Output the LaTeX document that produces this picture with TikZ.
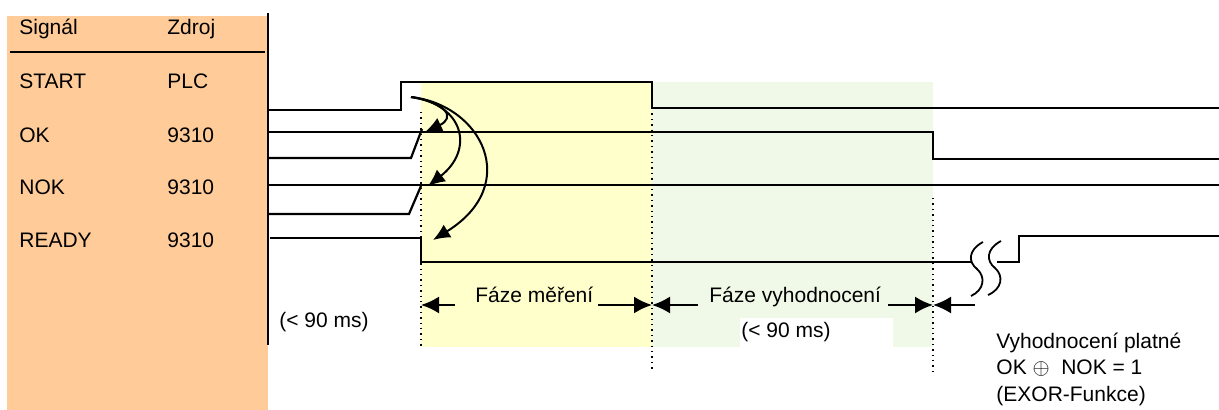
\documentclass[tikz,border=0pt]{standalone}
\usepackage{fontspec}
\setmainfont{Liberation Sans}
\usepackage{tikz}
\usetikzlibrary{arrows.meta,positioning}
\definecolor{panelorange}{HTML}{FFCC99}
\definecolor{phaseyellow}{HTML}{FFFFCC}
\definecolor{phasegreen}{HTML}{F0F8E8}

\begin{document}
\begin{tikzpicture}[
      x=0.5pt, y=-0.5pt,
      font=\fontsize{10.5}{13}\selectfont,
      lbl/.style={anchor=base west, inner sep=0pt},
      sig/.style={line width=1.1pt},
      guide/.style={dotted, line width=0.7pt},
      arr/.style={-{Latex[length=8.5pt,width=7.5pt]}, line width=1pt},
      dimarr/.style={-{Latex[length=9pt,width=8.5pt]}, line width=1pt},
      brk/.style={line width=0.9pt}
    ]
    \useasboundingbox (0,0) rectangle (1219,410);

    % backgrounds
    \fill[panelorange] (7,16) rectangle (268,410);
    \fill[phaseyellow] (421,82) rectangle (652,347);
    \fill[phasegreen]  (652,82) rectangle (933,347);
    \fill[white] (740,318) rectangle (893,347);

    % signal table
    \node[lbl] (hsig) at (19,35)  {Signál};
    \node[lbl] (hsrc) at (167,35) {Zdroj};
    \node[lbl] (start) at (19,89)    {START};
    \node[lbl] (startsrc) at (167,89) {PLC};
    \node[lbl] (ok) at (19,142.5)     {OK};
    \node[lbl] (oksrc) at (167,142.5) {9310};
    \node[lbl] (nok) at (19,195)      {NOK};
    \node[lbl] (noksrc) at (167,195)  {9310};
    \node[lbl] (ready) at (19,248)    {READY};
    \node[lbl] (readysrc) at (167,248) {9310};
    \draw[line width=1pt] (10,52) -- (265,52);
    \draw[sig] (268,13) -- (268,345);

    % waveforms
    \draw[sig] (268,110) -- (401,110) -- (401,82) -- (652,82) -- (652,108) -- (1219,108);
    \draw[sig] (268,132) -- (933,132) -- (933,159) -- (1219,159);
    \draw[sig] (268,158) -- (411,158) -- (422,129);
    \draw[sig] (268,185) -- (1219,185);
    \draw[sig] (268,214) -- (409,214) -- (421,186);
    \draw[sig] (270,238) -- (421,238) -- (421,262) -- (972,262);
    \draw[sig] (997,262) -- (1019,262) -- (1019,236) -- (1219,236);

    % break mark
    \draw[brk] (983,242) .. controls (968,250) and (968,262) .. (977,269)
               .. controls (986,277) and (984,290) .. (971,296);
    \draw[brk] (1001,241) .. controls (986,249) and (986,261) .. (995,268)
               .. controls (1004,276) and (1002,289) .. (988,295);

    % phase borders
    \draw[guide] (421,112) -- (421,347);
    \draw[guide] (652,108) -- (652,372);
    \draw[guide] (933,198) -- (933,372);

    % reaction arrows
    \coordinate (trig)   at (411,97);
    \coordinate (okhit)  at (425,132);
    \coordinate (nokhit) at (428,186);
    \coordinate (rdyhit) at (433,240);
    \draw[arr] (trig) .. controls (448,103) and (455,118) .. (okhit);
    \draw[arr] (trig) .. controls (465,105) and (474,150) .. (nokhit);
    \draw[arr] (trig) .. controls (482,105) and (522,185) .. (rdyhit);

    % phases
    \node[lbl] (mereni) at (475,302.5) {Fáze měření};
    \node[lbl] (vyhod)  at (709,302.5) {Fáze vyhodnocení};
    \coordinate (t0) at (421,305);
    \coordinate (t1) at (652,305);
    \coordinate (t2) at (933,305);
    \coordinate (m0) at (455,305);
    \coordinate (m1) at (598,305);
    \coordinate (v0) at (698,305);
    \coordinate (v1) at (888,305);
    \coordinate (e0) at (975,305);
    \draw[dimarr] (m0) -- (t0);
    \draw[dimarr] (m1) -- (t1);
    \draw[dimarr] (v0) -- (t1);
    \draw[dimarr] (v1) -- (t2);
    \draw[dimarr] (e0) -- (t2);

    \node[lbl] (limleft) at (279,328) {(< 90 ms)};
    \node[lbl] (limeval) at (741,338) {(< 90 ms)};

    % validity note
    \node[lbl] (note1) at (996,349) {Vyhodnocení platné};
    \node[lbl] (note2) at (996,375) {OK $\oplus$\ \ NOK = 1};
    \node[lbl] (note3) at (996,401) {(EXOR-Funkce)};
  \end{tikzpicture}
\end{document}
